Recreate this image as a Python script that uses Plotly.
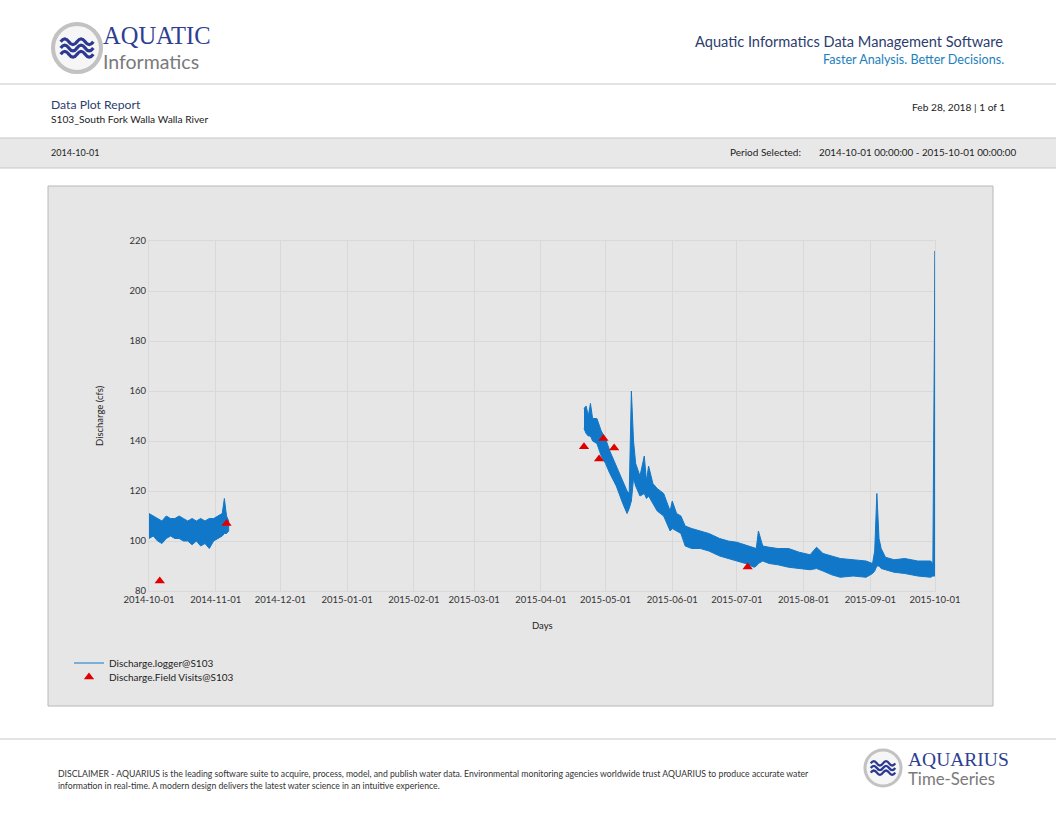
import plotly.graph_objects as go

W, H = 1056, 816
FONT = "Lato"

# ---------------- data ----------------
seg1_dates = ["2014-10-01", "2014-10-03", "2014-10-05", "2014-10-07", "2014-10-09",
              "2014-10-11", "2014-10-13", "2014-10-15", "2014-10-17", "2014-10-19",
              "2014-10-21", "2014-10-23", "2014-10-25", "2014-10-27", "2014-10-29",
              "2014-10-31", "2014-11-02", "2014-11-04", "2014-11-05", "2014-11-06",
              "2014-11-07"]
seg1_low = [101, 102, 100, 99, 101, 102, 101, 101, 100, 100,
            98.5, 100, 98, 99, 97, 100, 101, 102, 103, 103, 104]
seg1_high = [111, 110, 109, 108, 110, 109, 109, 110, 109, 108,
             109, 108, 109, 108, 109, 109, 110, 111, 117, 110, 108]

seg2_dates = ["2015-04-21", "2015-04-22", "2015-04-23", "2015-04-24", "2015-04-25",
              "2015-04-27", "2015-04-29", "2015-05-01", "2015-05-03", "2015-05-06",
              "2015-05-09", "2015-05-11", "2015-05-12", "2015-05-13", "2015-05-14",
              "2015-05-15", "2015-05-17", "2015-05-19", "2015-05-20", "2015-05-21",
              "2015-05-23", "2015-05-25", "2015-05-28", "2015-05-31", "2015-06-01",
              "2015-06-03", "2015-06-05", "2015-06-07", "2015-06-10", "2015-06-14",
              "2015-06-18", "2015-06-23", "2015-06-27", "2015-07-01", "2015-07-05",
              "2015-07-09", "2015-07-10", "2015-07-11", "2015-07-13", "2015-07-16",
              "2015-07-20", "2015-07-25", "2015-07-30", "2015-08-04", "2015-08-07",
              "2015-08-10", "2015-08-14", "2015-08-18", "2015-08-24", "2015-08-30",
              "2015-09-02", "2015-09-03", "2015-09-04", "2015-09-05", "2015-09-06",
              "2015-09-08", "2015-09-12", "2015-09-17", "2015-09-23", "2015-09-29",
              "2015-09-30", "2015-10-01"]
seg2_low = [145, 143, 142, 142, 140, 139, 134, 131, 127, 122,
            115, 111, 113, 116, 125, 122, 118, 119, 117, 118,
            115, 112, 110, 104, 105, 104, 103, 98, 97, 97,
            96, 94, 93, 92, 91, 89.5, 90, 91, 92, 91,
            90.5, 89.5, 89, 88.5, 89, 88, 86.5, 85.5, 86, 85.5,
            87, 88, 90, 90, 89, 88.5, 87.5, 87, 86, 85.5,
            86, 86]
seg2_high = [153, 154, 150, 155, 149, 149, 144, 141, 136, 130,
             124, 120, 119, 160, 140, 131, 126, 134, 124, 130,
             123, 121, 119, 112, 116, 111, 110, 106, 105, 104,
             103, 101, 100, 99.5, 98.5, 97.5, 97, 104, 98, 97.5,
             97, 97, 95.5, 94.5, 97.5, 95, 94, 93, 92.5, 92,
             91, 96, 119, 101, 97, 93.5, 92.5, 93, 92, 92,
             91, 216]

visit_dates = ["2014-10-06", "2014-11-06", "2015-04-21", "2015-04-28",
               "2015-04-30", "2015-05-05", "2015-07-06"]
visit_values = [84, 107, 137.7, 132.8, 141, 137.2, 89.6]

x_tick_dates = ["2014-10-01", "2014-11-01", "2014-12-01", "2015-01-01", "2015-02-01",
                "2015-03-01", "2015-04-01", "2015-05-01", "2015-06-01", "2015-07-01",
                "2015-08-01", "2015-09-01", "2015-10-01"]
y_ticks = [80, 100, 120, 140, 160, 180, 200, 220]

# ---------------- helpers ----------------
def ax(x):
    return x / W


def ay(y):
    return 1 - y / H


def txt(x, y, s, size, color, xanchor="left", yanchor="middle", family=FONT, angle=0, pad=1):
    return dict(x=ax(x), y=ay(y), xref="paper", yref="paper", text=s, showarrow=False,
                xanchor=xanchor, yanchor=yanchor, textangle=angle, borderpad=pad,
                font=dict(size=size, color=color, family=family))


def rect(x0, y0, x1, y1, fill, line="rgba(0,0,0,0)", lw=1):
    return dict(type="rect", xref="paper", yref="paper", x0=ax(x0), y0=ay(y0),
                x1=ax(x1), y1=ay(y1), fillcolor=fill, line=dict(color=line, width=lw),
                layer="below")


def hline(y, color="#c8c8c8", lw=1.2):
    return dict(type="line", xref="paper", yref="paper", x0=0, x1=1, y0=ay(y), y1=ay(y),
                line=dict(color=color, width=lw), layer="below")


def logo(cx, cy, r, shapes):
    shapes.append(dict(type="circle", xref="paper", yref="paper",
                       x0=ax(cx - r), x1=ax(cx + r), y0=ay(cy + r), y1=ay(cy - r),
                       fillcolor="#f6f6f6", line=dict(color="#c2c2c2", width=r * 0.17),
                       layer="above"))
    wx0 = cx - r * 0.68
    wl = r * 1.36
    for dy in (-0.26, 0.0, 0.26):
        y = cy + dy * r
        amp = r * 0.12
        seg = wl / 4
        pts = "M {:.5f},{:.5f}".format(ax(wx0), ay(y))
        pts += " Q {:.5f},{:.5f} {:.5f},{:.5f}".format(ax(wx0 + seg / 2), ay(y - 2 * amp),
                                                      ax(wx0 + seg), ay(y))
        for k in range(2, 5):
            pts += " T {:.5f},{:.5f}".format(ax(wx0 + seg * k), ay(y))
        shapes.append(dict(type="path", xref="paper", yref="paper", path=pts,
                           line=dict(color="#2b3990", width=r * 0.13), layer="above"))


# ---------------- traces ----------------
poly_x = seg1_dates + seg1_dates[::-1] + [None] + seg2_dates + seg2_dates[::-1]
poly_y = seg1_high + seg1_low[::-1] + [None] + seg2_high + seg2_low[::-1]

BLUE = "#1178c9"
RED = "#e00000"

fig = go.Figure()
fig.add_trace(go.Scatter(x=poly_x, y=poly_y, mode="lines", fill="toself",
                         fillcolor=BLUE, line=dict(color=BLUE, width=1),
                         showlegend=False, hoverinfo="skip", connectgaps=False))
fig.add_trace(go.Scatter(x=[None], y=[None], mode="lines", name="Discharge.logger@S103",
                         line=dict(color=BLUE, width=1.2), legend="legend"))
fig.add_trace(go.Scatter(x=visit_dates, y=visit_values, mode="markers",
                         name="Discharge.Field Visits@S103",
                         marker=dict(symbol="triangle-up", size=9, color=RED),
                         legend="legend2"))

# ---------------- page decoration ----------------
shapes = [
    hline(84),
    rect(-2, 138, W + 2, 168, "#e8e8e8", "#c8c8c8", 1.2),
    rect(48, 186, 993, 706, "#e6e6e6", "#b8b8b8", 1),
    hline(739),
]
logo(77, 48, 24, shapes)
logo(883, 768, 18, shapes)

NAVY = "#2d3d6e"
annotations = [
    txt(102, 36, "AQUATIC", 24.5, "#2e3e92", family="Liberation Serif", pad=0),
    txt(102, 61.5, "Informatics", 19.5, "#7a7a7a", pad=0),
    txt(1005, 41, "Aquatic Informatics Data Management Software", 14.6, NAVY, xanchor="right"),
    txt(1006, 60, "Faster Analysis. Better Decisions.", 12.6, "#1c80bd", xanchor="right"),
    txt(49, 104, "Data Plot Report", 12.2, NAVY),
    txt(49, 119, "S103_South Fork Walla Walla River", 10.2, "#222222"),
    txt(1007, 107, "Feb 28, 2018 | 1 of 1", 10.2, "#222222", xanchor="right"),
    txt(49, 152, "2014-10-01", 9, "#222222"),
    txt(803, 152, "Period Selected:", 10, "#222222", xanchor="right"),
    txt(817, 152, "2014-10-01 00:00:00 - 2015-10-01 00:00:00", 9.8, "#222222"),
    txt(99, 416, "Discharge (cfs)", 9.5, "#222222", xanchor="center", angle=-90),
    txt(542, 625, "Days", 9.5, "#222222", xanchor="center"),
    txt(56, 773, "DISCLAIMER - AQUARIUS is the leading software suite to acquire, process, model, "
        "and publish water data. Environmental monitoring agencies worldwide trust AQUARIUS to "
        "produce accurate water", 8.7, "#333333"),
    txt(56, 785, "information in real-time. A modern design delivers the latest water science in "
        "an intuitive experience.", 8.7, "#333333"),
    txt(907, 759.5, "AQUARIUS", 19.5, "#2e3e92", family="Liberation Serif", pad=0),
    txt(907, 778, "Time-Series", 16.8, "#7a7a7a", pad=0),
]

GRID = "#d9d9d9"
fig.update_layout(
    width=W, height=H,
    margin=dict(l=0, r=0, t=0, b=0, pad=0, autoexpand=False),
    paper_bgcolor="white",
    plot_bgcolor="white",
    font=dict(family=FONT, size=9, color="#333333"),
    xaxis=dict(type="date", domain=[ax(149), ax(935)], automargin=False,
               range=["2014-10-01", "2015-10-01"], tickvals=x_tick_dates,
               tickformat="%Y-%m-%d", showgrid=True, gridcolor=GRID, gridwidth=1,
               showline=True, linecolor=GRID, mirror=True, zeroline=False,
               ticks="", tickfont=dict(size=9.5, color="#333333")),
    yaxis=dict(domain=[ay(591), ay(241)], range=[80, 220], tickvals=y_ticks,
               automargin=False,
               showgrid=True, gridcolor=GRID, gridwidth=1, showline=True,
               linecolor=GRID, mirror=True, zeroline=False, ticks="",
               tickfont=dict(size=9.5, color="#333333")),
    legend=dict(x=ax(69), y=ay(663), xanchor="left", yanchor="middle",
                bgcolor="rgba(0,0,0,0)", font=dict(size=10, color="#222222"),
                itemwidth=30),
    legend2=dict(x=ax(69), y=ay(677), xanchor="left", yanchor="middle",
                 bgcolor="rgba(0,0,0,0)", font=dict(size=10, color="#222222"),
                 itemwidth=30),
    shapes=shapes,
    annotations=annotations,
)

fig.write_html("out.html",
               config={"displayModeBar": False},
               post_script="document.body.style.margin='0px';"
                           "document.body.style.overflow='hidden';")
